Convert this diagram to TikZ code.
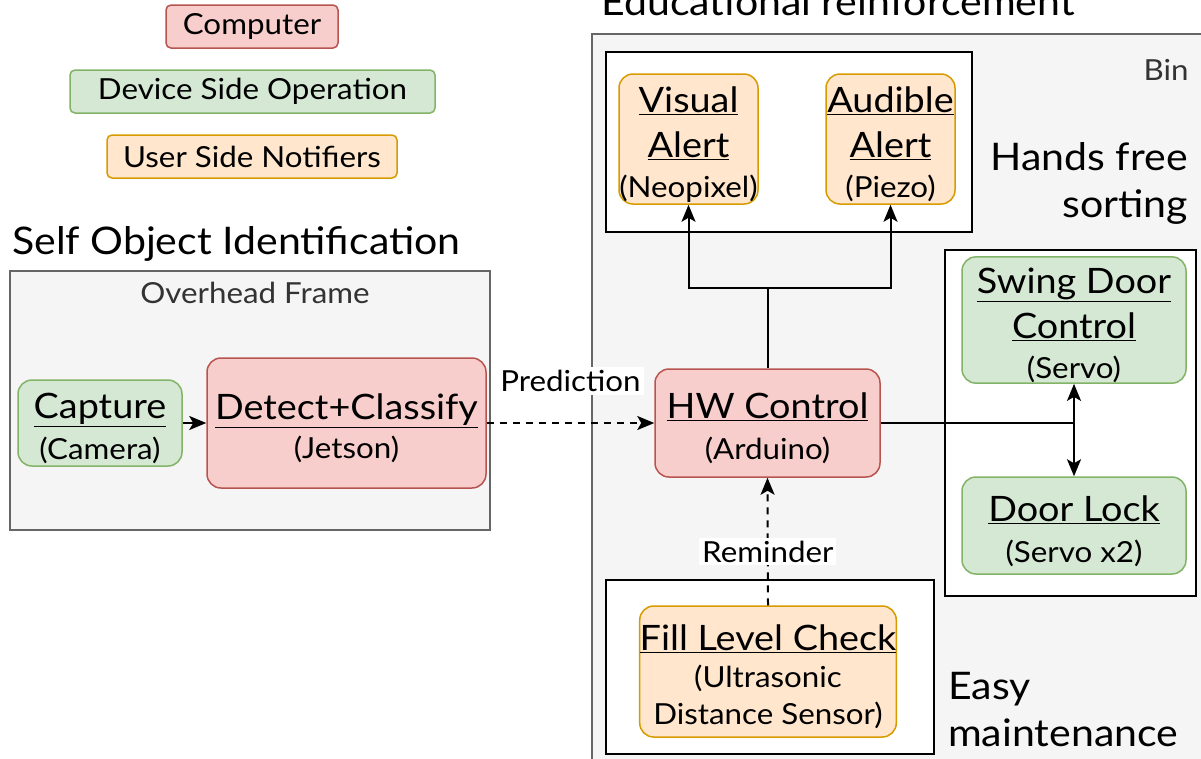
\documentclass[tikz,border=0pt]{standalone}
\usepackage{fontspec}
\setmainfont{Lato}[FakeStretch=1.08]
\usetikzlibrary{arrows.meta}
\definecolor{compfill}{HTML}{F8CECC}
\definecolor{compline}{HTML}{B85450}
\definecolor{devfill}{HTML}{D5E8D4}
\definecolor{devline}{HTML}{82B366}
\definecolor{userfill}{HTML}{FFE6CC}
\definecolor{userline}{HTML}{D79B00}
\definecolor{groupfill}{HTML}{F5F5F5}
\definecolor{groupline}{HTML}{666666}
\definecolor{grouptext}{HTML}{333333}
\newcommand\hd[1]{\rule{0pt}{37pt}\underline{#1}}
\newcommand\hdn[1]{\underline{#1}}
\newcommand\subtxt[1]{{\fontsize{29}{37}\selectfont #1}}
\begin{document}
\begin{tikzpicture}[x=1pt,y=-1pt,
  blk/.style={rounded corners=14pt, line width=1.5pt, align=center, inner sep=0pt, text=black, font=\fontsize{35}{45}\selectfont},
  comp/.style={blk, fill=compfill, draw=compline},
  dev/.style={blk, fill=devfill, draw=devline},
  usr/.style={blk, fill=userfill, draw=userline},
  legend/.style={rounded corners=5pt, line width=1.5pt, inner sep=0pt, font=\fontsize{29}{34}\selectfont},
  group/.style={fill=groupfill, draw=groupline, line width=1.5pt},
  frame/.style={fill=white, draw=black, line width=2pt},
  conn/.style={line width=2pt},
  arr/.style={conn, -{Stealth[length=17pt,width=14pt,inset=4pt]}},
  darr/.style={conn, {Stealth[length=17pt,width=14pt,inset=4pt]}-{Stealth[length=17pt,width=14pt,inset=4pt]}},
  dasharr/.style={conn, dash pattern=on 7pt off 6pt, -{Stealth[length=17pt,width=14pt,inset=4pt]}},
  lbl/.style={fill=white, inner sep=3pt, font=\fontsize{29}{34}\selectfont},
  caption/.style={font=\fontsize{38}{47}\selectfont, inner sep=0pt}
]
\useasboundingbox (0,0) rectangle (1201,758);
\clip (0,0) rectangle (1201,758);
\fill[white] (0,0) rectangle (1201,758);

% legend
\node[legend, fill=compfill, draw=compline, minimum width=172pt, minimum height=43pt] (lgcomp) at (252,26.5) {Computer};
\node[legend, fill=devfill, draw=devline, minimum width=365pt, minimum height=43pt] (lgdev) at (252.5,91.5) {Device Side Operation};
\node[legend, fill=userfill, draw=userline, minimum width=290pt, minimum height=43pt] (lgusr) at (252,156.5) {User Side Notifiers};

% overhead frame group
\node[caption, anchor=west] (selfid) at (12,244) {Self Object Identification};
\node[group, minimum width=480pt, minimum height=259pt, inner sep=0pt] (overhead) at (250,400.5) {};
\node[font=\fontsize{29}{34}\selectfont, text=grouptext] (overheadlbl) at (255,293) {Overhead Frame};
\node[dev, minimum width=164pt, minimum height=86pt] (capture) at (100,423) {\hd{Capture}\\[-4pt]\subtxt{(Camera)}};
\node[comp, minimum width=279pt, minimum height=130pt] (detect) at (346.5,423) {\hd{Detect+Classify}\\[-6pt]\subtxt{(Jetson)}};

% bin group
\node[group, minimum width=640pt, minimum height=760pt, inner sep=0pt, anchor=north west] (bin) at (591,33) {};
\node[caption] (edu) at (838,2) {Educational reinforcement};
\node[font=\fontsize{29}{34}\selectfont, text=grouptext, anchor=east] (binlbl) at (1192,70) {Bin};

\node[frame, minimum width=366pt, minimum height=180pt, inner sep=0pt] (alerts) at (789,142) {};
\node[usr, minimum width=139pt, minimum height=130pt] (visual) at (688.5,139) {\hd{Visual}\\\hdn{Alert}\\[-5pt]\subtxt{(Neopixel)}};
\node[usr, minimum width=129pt, minimum height=130pt] (audible) at (890.5,139) {\hd{Audible}\\\hdn{Alert}\\[-5pt]\subtxt{(Piezo)}};
\node[caption, align=right, anchor=east] (handsfree) at (1188,183) {Hands free\\sorting};

\node[frame, minimum width=251pt, minimum height=346pt, inner sep=0pt] (doors) at (1070.5,423) {};
\node[dev, minimum width=224pt, minimum height=120pt] (swing) at (1074,320) {\hd{Swing Door}\\\hdn{Control}\\[-5pt]\subtxt{(Servo)}};
\node[dev, minimum width=224pt, minimum height=97pt] (lock) at (1074,525.5) {\hd{Door Lock}\\[-4pt]\subtxt{(Servo x2)}};

\node[comp, minimum width=225pt, minimum height=108pt] (hw) at (767.5,423) {\hd{HW Control}\\[-4pt]\subtxt{(Arduino)}};

\node[frame, minimum width=328pt, minimum height=174pt, inner sep=0pt] (maint) at (770,667) {};
\node[usr, minimum width=256pt, minimum height=131pt] (fill) at (768,671.5) {\hd{Fill Level Check}\\[-8pt]\subtxt{(Ultrasonic}\\[-8pt]\subtxt{Distance Sensor)}};
\node[caption, align=left, anchor=west] (easy) at (948,710) {Easy\\maintenance};

% connectors
\draw[arr] (capture) -- (detect);
\draw[dasharr] (detect) -- node[lbl, pos=0.5, yshift=42pt] (pred) {Prediction} (hw);
\coordinate (split) at (767.5,288);
\draw[conn] (hw.north) -- (split);
\draw[arr] (split) -| (visual.south);
\draw[arr] (split) -| (audible.south);
\coordinate (doorjoin) at (1074,423);
\draw[conn] (hw.east) -- (doorjoin);
\draw[darr] (swing.south) -- (lock.north);
\draw[dasharr] (fill.north) -- node[lbl, pos=0.42] (remind) {Reminder} (hw.south);
\end{tikzpicture}
\end{document}
